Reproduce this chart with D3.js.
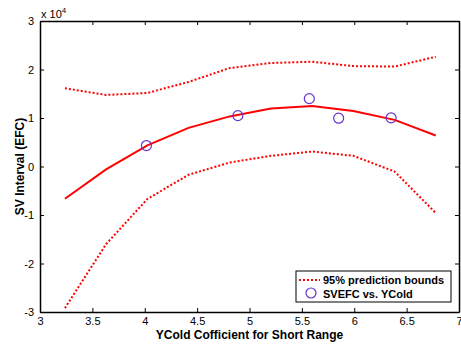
<!DOCTYPE html>
<html>
<head>
<meta charset="utf-8">
<script src="https://cdn.jsdelivr.net/npm/d3@7"></script>
<style>
  body { margin: 0; background: #fff; }
  svg { font-family: "Liberation Sans", Arial, sans-serif; }
  .tick text { font-size: 11px; fill: #000; }
</style>
</head>
<body>
<svg id="chart" width="461" height="345"></svg>
<script>
// fit evaluated at these x positions
var fitX = [3.238, 3.631, 4.025, 4.418, 4.811, 5.205, 5.598, 5.991, 6.385, 6.778];
var fitY = [-6650, -580, 4360, 7960, 10330, 11980, 12450, 11460, 9610, 6380];
var upperY = [16130, 14750, 15160, 17430, 20300, 21340, 21600, 20700, 20600, 22630];
var lowerY = [-29200, -16000, -6700, -1700, 820, 2200, 3090, 2200, -1030, -9590];

// observed points (SVEFC vs. YCold)
var ptX = [4.016, 4.889, 5.571, 5.851, 6.352];
var ptY = [4320, 10490, 13990, 9960, 10020];

var xTicks = [3, 3.5, 4, 4.5, 5, 5.5, 6, 6.5, 7];
var yTicks = [-30000, -20000, -10000, 0, 10000, 20000, 30000];

var svg = d3.select("#chart"),
  margin = {top: 21, right: 2, bottom: 33, left: 40},
  width = +svg.attr("width") - margin.left - margin.right,
  height = +svg.attr("height") - margin.top - margin.bottom,
  g = svg.append("g").attr("transform", "translate(" + margin.left + "," + margin.top + ")");

var x = d3.scaleLinear().domain([3, 7]).range([0, width]);
var y = d3.scaleLinear().domain([-30000, 30000]).range([height, 0]);

var red = "#ff0000";

function curve(ys) {
  return d3.line()
    .x(function(d, i) { return x(fitX[i]); })
    .y(function(d) { return y(d); })(ys);
}

g.append("path").attr("d", curve(upperY))
  .attr("fill", "none").attr("stroke", red).attr("stroke-width", 2).attr("stroke-dasharray", "2,2");
g.append("path").attr("d", curve(lowerY))
  .attr("fill", "none").attr("stroke", red).attr("stroke-width", 2).attr("stroke-dasharray", "2,2");
g.append("path").attr("d", curve(fitY))
  .attr("fill", "none").attr("stroke", red).attr("stroke-width", 2);

g.selectAll(".pt")
  .data(ptX)
  .enter().append("circle")
  .attr("class", "pt")
  .attr("cx", function(d) { return x(d); })
  .attr("cy", function(d, i) { return y(ptY[i]); })
  .attr("r", 5)
  .attr("fill", "none")
  .attr("stroke", "#6633cc")
  .attr("stroke-width", 1.2);

// axes: MATLAB style box with inward ticks on all sides
var fmtY = function(d) { return d / 10000; };

var xb = g.append("g")
  .attr("transform", "translate(0," + height + ")")
  .call(d3.axisBottom(x).tickValues(xTicks).tickSizeInner(-4).tickSizeOuter(0).tickPadding(5).tickFormat(d3.format("")));
// last label sits on the window edge
xb.selectAll(".tick text").filter(function(d) { return d === 7; })
  .attr("text-anchor", "end").attr("dx", "3");
g.append("g")
  .call(d3.axisLeft(y).tickValues(yTicks).tickSizeInner(-4).tickSizeOuter(0).tickPadding(6).tickFormat(fmtY));
g.append("g")
  .call(d3.axisTop(x).tickValues(xTicks).tickSizeInner(-4).tickSizeOuter(0).tickFormat(""));
g.append("g")
  .attr("transform", "translate(" + width + ",0)")
  .call(d3.axisRight(y).tickValues(yTicks).tickSizeInner(-4).tickSizeOuter(0).tickFormat(""));

g.selectAll(".domain").attr("stroke", "#000").attr("stroke-width", 1.5);
g.selectAll(".tick line").attr("stroke", "#000");

// exponent label
var ex = svg.append("text").attr("x", 41).attr("y", 18).style("font-size", "11px");
ex.append("tspan").text("x 10");
ex.append("tspan").attr("dy", -5).style("font-size", "8px").text("4");

// axis titles
svg.append("text")
  .attr("x", margin.left + width / 2).attr("y", 339)
  .attr("text-anchor", "middle")
  .style("font-size", "12px").style("font-weight", "bold")
  .text("YCold Cofficient for Short Range");
svg.append("text")
  .attr("transform", "translate(24," + (margin.top + height / 2) + ") rotate(-90)")
  .attr("text-anchor", "middle")
  .style("font-size", "12px").style("font-weight", "bold")
  .text("SV Interval (EFC)");

// legend
var lg = svg.append("g").attr("transform", "translate(296,271)");
lg.append("rect").attr("width", 155).attr("height", 31)
  .attr("fill", "#fff").attr("stroke", "#000").attr("stroke-width", 1);
lg.append("line").attr("x1", 3).attr("x2", 24).attr("y1", 9).attr("y2", 9)
  .attr("stroke", red).attr("stroke-width", 2).attr("stroke-dasharray", "2,2");
lg.append("circle").attr("cx", 15).attr("cy", 22).attr("r", 5)
  .attr("fill", "none").attr("stroke", "#6633cc").attr("stroke-width", 1.2);
lg.append("text").attr("x", 27).attr("y", 13)
  .style("font-size", "11px").style("font-weight", "bold").text("95% prediction bounds");
lg.append("text").attr("x", 27).attr("y", 27)
  .style("font-size", "11px").style("font-weight", "bold").text("SVEFC vs. YCold");
</script>
</body>
</html>
